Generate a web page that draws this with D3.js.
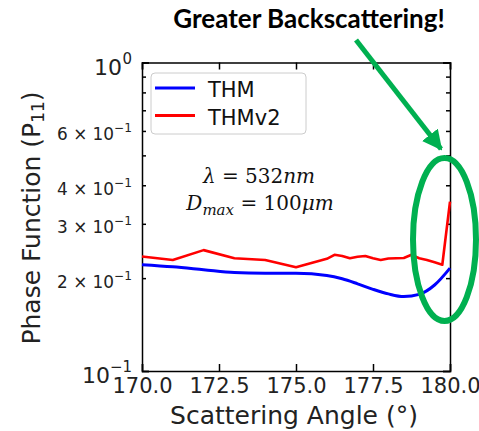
<!DOCTYPE html>
<html lang="en">
<head>
    <meta charset="UTF-8">
    <title>Phase Function</title>
    <style>
        body {
            margin: 0;
            padding: 0;
            background-color: #fff;
        }
        .axis path, .axis line {
            stroke: #000;
            stroke-width: 1.5;
        }
    </style>
</head>
<body>
<svg width="479" height="431" id="chart" font-family="DejaVu Sans, sans-serif"></svg>

<script src="https://d3js.org/d3.v7.min.js"></script>
<script>
    // THM curve (smooth)
    const angleThm = [170, 171, 172, 173, 174, 175, 176, 176.5, 177, 177.5, 178, 178.5, 179, 179.5, 180];
    const thm = [0.221, 0.2176, 0.213, 0.2085, 0.2076, 0.2075, 0.204, 0.199, 0.1917, 0.184, 0.1778, 0.1743, 0.1772, 0.190, 0.2155];

    // THMv2 curve (jagged)
    const angleThmv2 = [170, 171, 172, 173, 174, 175, 176, 176.25, 176.5, 176.75, 177, 177.25, 177.5, 177.75,
        178, 178.25, 178.5, 178.75, 179, 179.25, 179.5, 179.75, 180];
    const thmv2 = [0.235, 0.229, 0.2465, 0.232, 0.229, 0.217, 0.231, 0.238, 0.236, 0.232, 0.2345, 0.236, 0.232, 0.229,
        0.2315, 0.232, 0.2325, 0.238, 0.232, 0.229, 0.225, 0.221, 0.354];

    const xTicks = [170, 172.5, 175, 177.5, 180];
    const yMajor = [0.1, 1];
    const yMinor = [0.2, 0.3, 0.4, 0.5, 0.6, 0.7, 0.8, 0.9];
    const yMinorLabels = [[0.6, "6"], [0.4, "4"], [0.3, "3"], [0.2, "2"]];
    const legendNames = ["THM", "THMv2"];
    const colors = ["#0000ff", "#ff0000"];

    const svg = d3.select("#chart");
    const plotL = 142, plotR = 450, plotT = 62.5, plotB = 371;

    const x = d3.scaleLinear().domain([170, 180]).range([plotL, plotR]);
    const y = d3.scaleLog().domain([0.1, 1]).range([plotB, plotT]);

    // axes, ticks pointing in
    svg.append("g").attr("class", "axis")
        .attr("transform", `translate(0,${plotB})`)
        .call(d3.axisBottom(x).tickValues(xTicks).tickSize(-7).tickPadding(7).tickFormat(d3.format(".1f")))
        .call(g => g.selectAll("text").attr("font-size", 21).attr("fill", "#222").attr("font-family", "DejaVu Sans"));

    svg.append("g").attr("class", "axis")
        .attr("transform", `translate(0,${plotT})`)
        .call(d3.axisTop(x).tickValues(xTicks).tickSize(-7).tickFormat(""));

    [[plotL, d3.axisLeft], [plotR, d3.axisRight]].forEach(([pos, ax]) => {
        svg.append("g").attr("class", "axis")
            .attr("transform", `translate(${pos},0)`)
            .call(ax(y).tickValues(yMajor).tickSize(-7).tickFormat(""));
        svg.append("g").attr("class", "axis")
            .attr("transform", `translate(${pos},0)`)
            .call(ax(y).tickValues(yMinor).tickSize(-4).tickFormat(""))
            .call(g => g.select(".domain").remove());
    });

    // y tick labels with exponents
    yMajor.forEach(v => {
        const sup = v === 1 ? "0" : "\u22121";
        const supW = v === 1 ? 10 : 22;
        svg.append("text")
            .attr("x", 132 - supW).attr("y", y(v) + 12)
            .attr("text-anchor", "end").attr("font-size", 22).attr("fill", "#222")
            .text("10");
        svg.append("text")
            .attr("x", 132).attr("y", y(v) + 1)
            .attr("text-anchor", "end").attr("font-size", 15).attr("fill", "#222")
            .text(sup);
    });
    yMinorLabels.forEach(([v, m]) => {
        const t = svg.append("text")
            .attr("x", 132).attr("y", y(v) + 9.5)
            .attr("text-anchor", "end").attr("font-size", 18).attr("fill", "#222");
        t.append("tspan").text(m + " \u00d7 10");
        t.append("tspan").attr("font-size", 13).attr("dy", -8).text("\u22121");
        // the label reaches from x=57 to x=132 in the original
        const w = t.node().getComputedTextLength();
        if (w > 0) {
            const k = 75 / w;
            t.attr("font-size", 18 * k);
            t.select("tspan:last-child").attr("font-size", 13 * k);
        }
    });

    // lines
    const lineThm = d3.line()
        .x((d, i) => x(angleThm[i]))
        .y(d => y(d))
        .curve(d3.curveMonotoneX);
    const lineThmv2 = d3.line()
        .x((d, i) => x(angleThmv2[i]))
        .y(d => y(d));

    svg.append("path").datum(thm)
        .attr("d", lineThm).attr("fill", "none")
        .attr("stroke", colors[0]).attr("stroke-width", 3);
    svg.append("path").datum(thmv2)
        .attr("d", lineThmv2).attr("fill", "none")
        .attr("stroke", colors[1]).attr("stroke-width", 2.6).attr("stroke-linejoin", "round");

    // legend
    svg.append("rect")
        .attr("x", 151).attr("y", 73).attr("width", 155).attr("height", 61).attr("rx", 4)
        .attr("fill", "#fff").attr("fill-opacity", 0.8).attr("stroke", "#ccc");
    legendNames.forEach((name, i) => {
        const ly = 88 + i * 27.5;
        svg.append("line")
            .attr("x1", 155).attr("x2", 195).attr("y1", ly).attr("y2", ly)
            .attr("stroke", colors[i]).attr("stroke-width", 3);
        svg.append("text")
            .attr("x", 208).attr("y", ly + 9)
            .attr("font-size", 21).attr("fill", "#111").text(name);
    });

    // annotation text
    const serif = "DejaVu Serif, serif";
    const l1 = svg.append("text").attr("x", 259).attr("y", 183)
        .attr("text-anchor", "middle").attr("font-family", serif).attr("font-size", 20).attr("fill", "#111");
    l1.append("tspan").attr("font-style", "italic").text("\u03bb");
    l1.append("tspan").text(" = 532");
    l1.append("tspan").attr("font-style", "italic").text("nm");

    const l2 = svg.append("text").attr("x", 260).attr("y", 210)
        .attr("text-anchor", "middle").attr("font-family", serif).attr("font-size", 20).attr("fill", "#111");
    l2.append("tspan").attr("font-style", "italic").text("D");
    l2.append("tspan").attr("font-style", "italic").attr("font-size", 15).attr("dy", 5).text("max");
    l2.append("tspan").attr("dy", -5).text(" = 100");
    l2.append("tspan").attr("font-style", "italic").text("\u03bcm");

    // axis titles
    svg.append("text")
        .attr("x", 294).attr("y", 424)
        .attr("text-anchor", "middle").attr("font-size", 25).attr("fill", "#222")
        .text("Scattering Angle (\u00b0)");

    const yl = svg.append("text")
        .attr("transform", "translate(40,218) rotate(-90)")
        .attr("text-anchor", "middle").attr("font-size", 25).attr("fill", "#222");
    yl.append("tspan").text("Phase Function (P");
    yl.append("tspan").attr("font-size", 17).attr("dy", 4).text("11");
    yl.append("tspan").attr("dy", -4).text(")");

    // green callout
    const green = "#00b050";
    svg.append("ellipse")
        .attr("cx", 444.5).attr("cy", 239.5).attr("rx", 31.5).attr("ry", 81.5)
        .attr("fill", "none").attr("stroke", green).attr("stroke-width", 6);

    svg.append("defs").append("marker")
        .attr("id", "head").attr("viewBox", "0 0 10 10")
        .attr("refX", 9).attr("refY", 5)
        .attr("markerWidth", 4).attr("markerHeight", 4)
        .attr("orient", "auto")
        .append("path").attr("d", "M0,0 L10,5 L0,10 z").attr("fill", green);

    svg.append("line")
        .attr("x1", 356).attr("y1", 40).attr("x2", 441).attr("y2", 149)
        .attr("stroke", green).attr("stroke-width", 5)
        .attr("marker-end", "url(#head)");

    svg.append("text")
        .attr("x", 309).attr("y", 28)
        .attr("text-anchor", "middle")
        .attr("font-family", "Lato, sans-serif").attr("font-weight", "bold")
        .attr("font-size", 26).attr("fill", "#000")
        .text("Greater Backscattering!");
</script>
</body>
</html>
